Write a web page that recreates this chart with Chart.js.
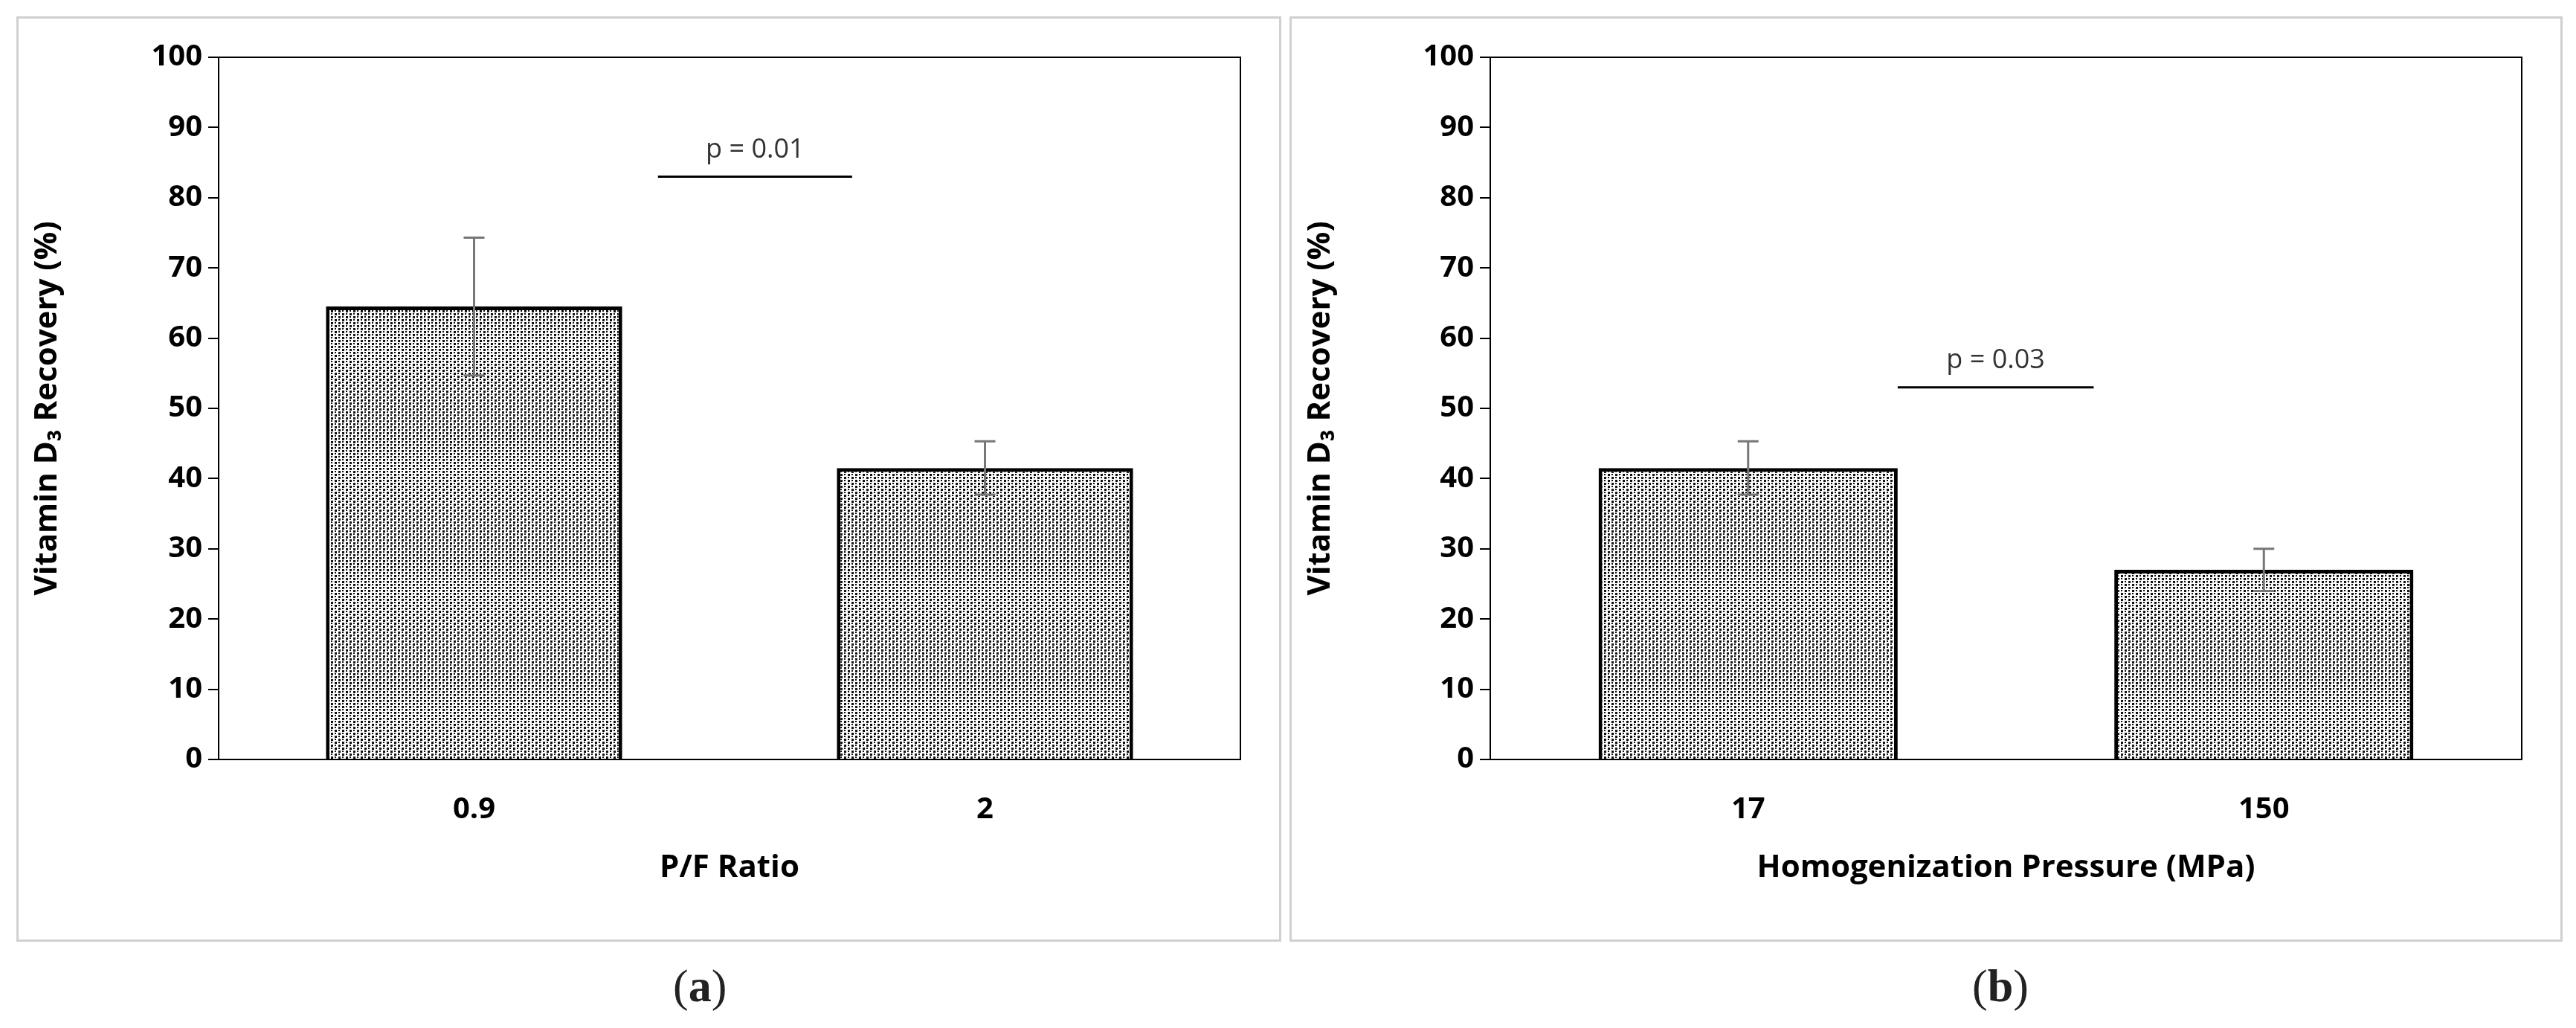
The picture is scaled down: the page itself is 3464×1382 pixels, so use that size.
<!DOCTYPE html>
<html><head><meta charset="utf-8">
<script src="https://cdn.jsdelivr.net/npm/chart.js@4"></script>
<style>
body{margin:0;background:#fff;width:3464px;height:1382px;position:relative;overflow:hidden;font-family:"Open Sans",sans-serif}
.panel{position:absolute;top:22px;height:1244px;border:3px solid #d0d0d0;box-sizing:border-box}
.lab{position:absolute;top:1290px;font-family:"Liberation Serif",serif;font-size:62px;color:#222}
</style></head><body>
<div class="panel" style="left:22px;width:1701px"><canvas id="ca"></canvas></div>
<div class="panel" style="left:1734px;width:1712px"><canvas id="cb"></canvas></div>
<div class="lab" style="left:905px">(<b>a</b>)</div>
<div class="lab" style="left:2652px">(<b>b</b>)</div>
<script>
const catsA=["0.9","2"], valsA=[64.5,41.5], errA=[9.8,3.8];
const catsB=["17","150"], valsB=[41.5,27.0], errB=[3.8,3.0];
const titleXA="P/F Ratio", titleXB="Homogenization Pressure (MPa)";
const yTitle="Vitamin D\u2083 Recovery (%)";
const pA={text:"p = 0.01",y:83,x0:0.36,x1:0.74};
const pB={text:"p = 0.03",y:53,x0:0.29,x1:0.67};

function pattern(){
  const c=document.createElement('canvas');c.width=10;c.height=8;
  const g=c.getContext('2d');g.fillStyle='#fff';g.fillRect(0,0,10,8);
  g.fillStyle='#111';
  g.fillRect(0,0,3,3);g.fillRect(5,4,3,3);g.fillRect(5,0,2,2);g.fillRect(0,4,2,2);
  return g.createPattern(c,'repeat');
}
const extras={id:'extras',afterDatasetsDraw(ch,a,o){
  const ctx=ch.ctx,x=ch.scales.x,y=ch.scales.y,ca=ch.chartArea,p=o;
  ctx.save();
  ctx.strokeStyle='#000';ctx.lineWidth=2;ctx.strokeRect(ca.left,ca.top,ca.width,ca.height);
  ctx.strokeStyle='#777';ctx.lineWidth=3;
  p.vals.forEach((v,i)=>{const cx=x.getPixelForValue(i),t=y.getPixelForValue(v+p.err[i]),b=y.getPixelForValue(v-p.err[i]);
    ctx.beginPath();ctx.moveTo(cx,t);ctx.lineTo(cx,b);ctx.moveTo(cx-14,t);ctx.lineTo(cx+14,t);ctx.moveTo(cx-14,b);ctx.lineTo(cx+14,b);ctx.stroke();});
  const w=x.getPixelForValue(1)-x.getPixelForValue(0),x0=x.getPixelForValue(0);
  const ly=y.getPixelForValue(p.p.y);
  ctx.strokeStyle='#000';ctx.lineWidth=3;ctx.beginPath();ctx.moveTo(x0+w*p.p.x0,ly);ctx.lineTo(x0+w*p.p.x1,ly);ctx.stroke();
  ctx.fillStyle='#333';ctx.font='36px "Open Sans"';ctx.textAlign='center';ctx.textBaseline='bottom';
  ctx.fillText(p.p.text,x0+w*(p.p.x0+p.p.x1)/2,ly-18);
  ctx.restore();
}};
function make(id,cats,vals,err,tx,p,w){
  return new Chart(document.getElementById(id),{type:'bar',
    data:{labels:cats,datasets:[{data:vals,backgroundColor:pattern(),borderColor:'#000',borderWidth:5,barPercentage:0.58,categoryPercentage:1}]},
    plugins:[extras],
    options:{responsive:false,animation:false,devicePixelRatio:1,
      layout:{padding:{left:10,right:52,top:52,bottom:67}},
      plugins:{legend:{display:false},tooltip:{enabled:false},extras:{vals,err,p}},
      scales:{
        x:{grid:{display:false},border:{display:false},ticks:{color:'#000',font:{family:'Open Sans',size:40,weight:'bold'},padding:36},
           title:{display:true,text:tx,color:'#000',font:{family:'Open Sans',size:42,weight:'bold'},padding:{top:30}},
           afterFit(s){s.height=175;}},
        y:{min:0,max:100,ticks:{stepSize:10,color:'#000',font:{family:'Open Sans',size:40,weight:'bold'},padding:8},
           grid:{drawOnChartArea:false,tickLength:14,color:'#000',lineWidth:2},border:{color:'#000',width:2},
           title:{display:true,text:yTitle,color:'#000',font:{family:'Open Sans',size:42,weight:'bold'},padding:{bottom:14}},
           afterFit(s){s.width=w;}}
      }}});
}
const ca=document.getElementById('ca');ca.width=1695;ca.height=1238;
const cb=document.getElementById('cb');cb.width=1706;cb.height=1238;
make('ca',catsA,valsA,errA,titleXA,pA,259);
make('cb',catsB,valsB,errB,titleXB,pB,257);
</script></body></html>
